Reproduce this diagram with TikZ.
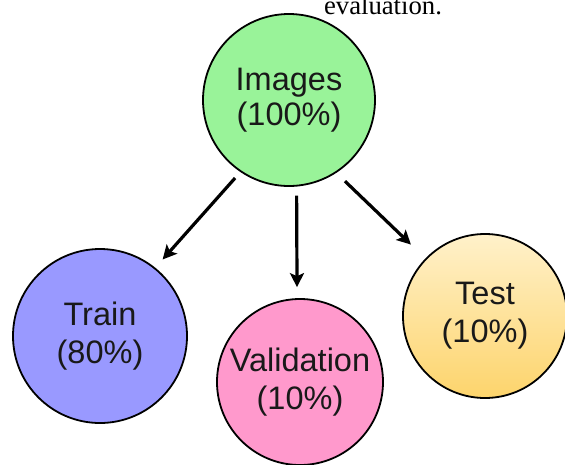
\documentclass[tikz,border=0pt]{standalone}
\usepackage{fontspec}
\setmainfont{Liberation Sans}
\newfontfamily\serifcap{Liberation Serif}
\usetikzlibrary{arrows.meta}
\definecolor{imggreen}{RGB}{153,243,153}
\definecolor{trainblue}{RGB}{153,153,255}
\definecolor{valpink}{RGB}{255,153,204}
\definecolor{testtop}{RGB}{255,241,202}
\definecolor{testbot}{RGB}{253,212,108}
\tikzset{
  bubble/.style={circle, draw=black, line width=1.8pt, inner sep=0pt, align=center,
    font=\fontsize{32.5}{38}\selectfont, text=black!90},
  splitarrow/.style={line width=3.2pt, -{Stealth[length=14pt,width=14pt,inset=3pt]}},
}
\begin{document}
\begin{tikzpicture}[x=1pt,y=-1pt]
\useasboundingbox (0,0) rectangle (565,464);
\clip (0,0) rectangle (565,464);
\node[anchor=base, font=\serifcap\fontsize{26.7}{30}\selectfont] (cap) at (383,14) {evaluation.};
\node[bubble, fill=imggreen, minimum size=172pt] (img) at (289,100) {\raisebox{-3pt}{\shortstack{Images\\[2pt](100\%)}}};
\node[bubble, fill=trainblue, minimum size=174pt] (train) at (100,336) {Train\\(80\%)};
\node[bubble, fill=valpink, minimum size=166pt] (val) at (300,382) {Validation\\(10\%)};
\node[bubble, top color=testtop, bottom color=testbot, minimum size=164pt] (test) at (485,316) {Test\\(10\%)};
\draw[splitarrow, shorten <=8pt, shorten >=11pt] (img.-124) -- (train.51);
\draw[splitarrow, shorten <=9pt, shorten >=11pt] (img.-85) -- (val.92);
\draw[splitarrow, shorten <=12pt, shorten >=20pt] (img.-57) -- (test.136);
\end{tikzpicture}
\end{document}
